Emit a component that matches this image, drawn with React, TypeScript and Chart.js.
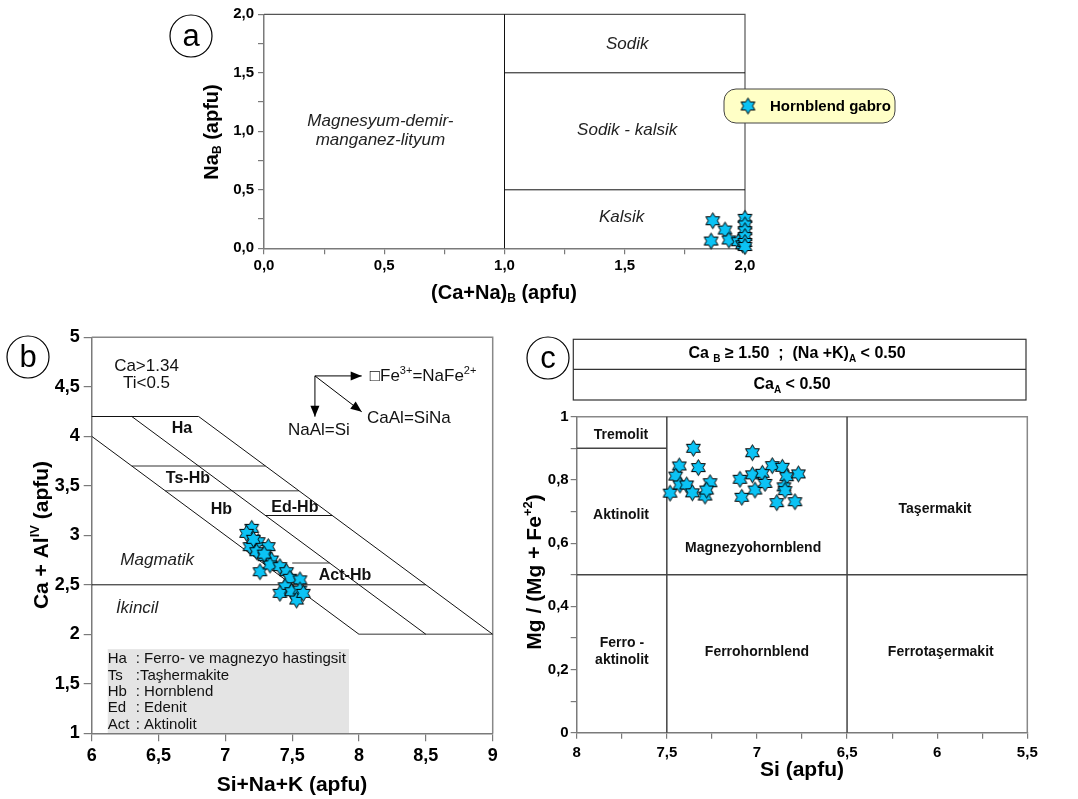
import React, { useEffect, useRef } from "react";
import { Chart, registerables } from "chart.js";
Chart.register(...registerables);

const PAGE_W = 1078;
const PAGE_H = 799;
const FONT = "'Liberation Sans', Arial, Helvetica, sans-serif";
const STAR_FILL = "#0BC3F5";
const AXIS_COLOR = "#7a7a7a";

// ---------------- Panel a : (Ca+Na)B vs NaB ----------------
const aCaNaB = [1.866, 1.917, 1.859, 1.933, 1.972, 1.99, 2.0, 2.0, 2.0, 2.0, 2.0, 2.0];
const aNaB = [0.236, 0.156, 0.062, 0.071, 0.056, 0.03, 0.256, 0.2, 0.15, 0.1, 0.05, 0.015];
const aXTicks = [0, 0.25, 0.5, 0.75, 1, 1.25, 1.5, 1.75, 2];
const aXTickLabels = ["0,0", "", "0,5", "", "1,0", "", "1,5", "", "2,0"];
const aYTicks = [0, 0.25, 0.5, 0.75, 1, 1.25, 1.5, 1.75, 2];
const aYTickLabels = ["0,0", "", "0,5", "", "1,0", "", "1,5", "", "2,0"];
const aBoundaries = [
  [1, 0, 1, 2],
  [1, 1.5, 2, 1.5],
  [1, 0.5, 2, 0.5],
];
const aFields = [
  { t: "Sodik", x: 1.51, y: 1.74 },
  { t: "Sodik - kalsik", x: 1.51, y: 1.01 },
  { t: "Kalsik", x: 1.487, y: 0.265 },
  { t: "Magnesyum-demir-", x: 0.484, y: 1.082 },
  { t: "manganez-lityum", x: 0.484, y: 0.926 },
];
const seriesName = "Hornblend gabro";

// ---------------- Panel b : Si+Na+K vs Ca+AlIV ----------------
const bSiNaK = [7.197, 7.159, 7.246, 7.184, 7.234, 7.321, 7.296, 7.346, 7.259, 7.334, 7.408, 7.458, 7.483, 7.558, 7.446, 7.408, 7.496, 7.558, 7.533, 7.583, 7.21, 7.29];
const bCaAl = [3.07, 3.02, 2.935, 2.885, 2.834, 2.885, 2.784, 2.75, 2.632, 2.7, 2.683, 2.632, 2.566, 2.55, 2.48, 2.414, 2.43, 2.447, 2.346, 2.414, 2.96, 2.81];
const bXTicks = [6, 6.5, 7, 7.5, 8, 8.5, 9];
const bXTickLabels = ["6", "6,5", "7", "7,5", "8", "8,5", "9"];
const bYTicks = [1, 1.5, 2, 2.5, 3, 3.5, 4, 4.5, 5];
const bYTickLabels = ["1", "1,5", "2", "2,5", "3", "3,5", "4", "4,5", "5"];
const bLines = [
  [6, 4.2, 6.8, 4.2],
  [6, 4, 8, 2],
  [6.3, 4.2, 8.5, 2],
  [6.8, 4.2, 9, 2],
  [7.3, 3.2, 7.8, 3.2],
  [6, 2.5, 8.5, 2.5],
];
const bGrayLines = [
  [6.3, 3.7, 7.3, 3.7],
  [6.55, 3.45, 7.55, 3.45],
  [7.5, 2.72, 7.78, 2.72],
  [8, 2, 9, 2],
];
const bBoldFields = [
  { t: "Ha", x: 6.675, y: 4.075 },
  { t: "Ts-Hb", x: 6.72, y: 3.57 },
  { t: "Hb", x: 6.97, y: 3.255 },
  { t: "Ed-Hb", x: 7.52, y: 3.275 },
  { t: "Act-Hb", x: 7.895, y: 2.59 },
];
const bItalicFields = [
  { t: "Magmatik", x: 6.49, y: 2.75 },
  { t: "İkincil", x: 6.34, y: 2.265 },
];
const bPlainFields = [
  { t: "Ca>1.34", x: 6.41, y: 4.703 },
  { t: "Ti<0.5", x: 6.41, y: 4.538 },
  { t: "NaAl=Si", x: 7.70, y: 4.064 },
];
const bArrowOrigin = [7.67, 4.61];
const bArrowEnds = [
  [8.02, 4.61],
  [7.67, 4.198],
  [8.02, 4.248],
];
const bLegendAbbr = ["Ha", "Ts", "Hb", "Ed", "Act"];
const bLegendText = [": Ferro- ve magnezyo hastingsit", ":Taşhermakite", ": Hornblend", ": Edenit", ": Aktinolit"];
const bLegendBox = [6.12, 1.0, 7.925, 1.85];

// ---------------- Panel c : Si vs Mg/(Mg+Fe2+) ----------------
const cSi = [7.353, 7.431, 7.325, 7.451, 7.482, 7.427, 7.39, 7.358, 7.288, 7.26, 7.279, 7.025, 7.094, 7.084, 7.025, 7.011, 6.97, 6.955, 6.915, 6.859, 6.835, 6.85, 6.844, 6.89, 6.77, 6.789];
const cMg = [0.9, 0.844, 0.839, 0.812, 0.758, 0.784, 0.784, 0.759, 0.749, 0.791, 0.768, 0.886, 0.802, 0.745, 0.816, 0.768, 0.821, 0.789, 0.845, 0.84, 0.81, 0.778, 0.766, 0.728, 0.819, 0.731];
const cXTicks = [5.5, 5.75, 6, 6.25, 6.5, 6.75, 7, 7.25, 7.5, 7.75, 8];
const cXTickLabels = ["5,5", "", "6", "", "6,5", "", "7", "", "7,5", "", "8"];
const cYTicks = [0, 0.1, 0.2, 0.3, 0.4, 0.5, 0.6, 0.7, 0.8, 0.9, 1];
const cYTickLabels = ["0", "", "0,2", "", "0,4", "", "0,6", "", "0,8", "", "1"];
const cLines = [
  [7.5, 0, 7.5, 1],
  [6.5, 0, 6.5, 1],
  [8, 0.5, 5.5, 0.5],
  [8, 0.9, 7.5, 0.9],
];
const cFields = [
  { t: "Tremolit", x: 7.754, y: 0.942 },
  { t: "Aktinolit", x: 7.754, y: 0.689 },
  { t: "Magnezyohornblend", x: 7.021, y: 0.584 },
  { t: "Taşermakit", x: 6.012, y: 0.708 },
  { t: "Ferro -", x: 7.749, y: 0.284 },
  { t: "aktinolit", x: 7.749, y: 0.23 },
  { t: "Ferrohornblend", x: 7.0, y: 0.255 },
  { t: "Ferrotaşermakit", x: 5.98, y: 0.255 },
];

type Part = { t: string; s?: "sub" | "sup" };

function makeStar(R: number, fill: string) {
  const size = Math.ceil(R * 2 + 3);
  const c = document.createElement("canvas");
  c.width = size;
  c.height = size;
  const g = c.getContext("2d")!;
  const cx = size / 2, cy = size / 2, r = R / Math.sqrt(3);
  g.beginPath();
  for (let k = 0; k < 12; k++) {
    const ang = -Math.PI / 2 + (k * Math.PI) / 6;
    const rad = k % 2 === 0 ? R : r;
    const x = cx + rad * Math.cos(ang), y = cy + rad * Math.sin(ang);
    if (k === 0) g.moveTo(x, y); else g.lineTo(x, y);
  }
  g.closePath();
  g.fillStyle = fill;
  g.fill();
  g.lineWidth = 1;
  g.strokeStyle = "#000";
  g.stroke();
  return c;
}

function txt(ctx: CanvasRenderingContext2D, s: string, x: number, y: number, size: number, style = "", align: CanvasTextAlign = "center", color = "#111") {
  ctx.save();
  ctx.font = `${style} ${size}px ${FONT}`;
  ctx.fillStyle = color;
  ctx.textAlign = align;
  ctx.textBaseline = "middle";
  ctx.fillText(s, x, y);
  ctx.restore();
}

function rich(ctx: CanvasRenderingContext2D, parts: Part[], x: number, y: number, size: number, weight: string, align: "left" | "center", rotate = false, color = "#000") {
  ctx.save();
  ctx.translate(x, y);
  if (rotate) ctx.rotate(-Math.PI / 2);
  ctx.fillStyle = color;
  ctx.textBaseline = "middle";
  ctx.textAlign = "left";
  const fontOf = (p: Part) => `${weight} ${p.s ? Math.round(size * 0.62) : size}px ${FONT}`;
  let total = 0;
  for (const p of parts) {
    ctx.font = fontOf(p);
    total += ctx.measureText(p.t).width;
  }
  let cx = align === "center" ? -total / 2 : 0;
  for (const p of parts) {
    ctx.font = fontOf(p);
    const dy = p.s === "sub" ? size * 0.3 : p.s === "sup" ? -size * 0.32 : 0;
    ctx.fillText(p.t, cx, dy);
    cx += ctx.measureText(p.t).width;
  }
  ctx.restore();
}

const PX = (c: any, v: number) => c.scales.x.getPixelForValue(v);
const PY = (c: any, v: number) => c.scales.y.getPixelForValue(v);

function segs(c: any, list: number[][], color: string, width: number) {
  const ctx = c.ctx as CanvasRenderingContext2D;
  ctx.save();
  ctx.strokeStyle = color;
  ctx.lineWidth = width;
  ctx.beginPath();
  for (const [x1, y1, x2, y2] of list) {
    ctx.moveTo(PX(c, x1), PY(c, y1));
    ctx.lineTo(PX(c, x2), PY(c, y2));
  }
  ctx.stroke();
  ctx.restore();
}

function frame(c: any, color: string, width: number) {
  const ctx = c.ctx as CanvasRenderingContext2D;
  const { left, right, top, bottom } = c.chartArea;
  ctx.save();
  ctx.strokeStyle = color;
  ctx.lineWidth = width;
  ctx.beginPath();
  ctx.moveTo(left, top);
  ctx.lineTo(right, top);
  ctx.lineTo(right, bottom);
  ctx.stroke();
  ctx.restore();
}

function circleLabel(ctx: CanvasRenderingContext2D, letter: string, cx: number, cy: number) {
  ctx.save();
  ctx.beginPath();
  ctx.arc(cx, cy, 21, 0, Math.PI * 2);
  ctx.fillStyle = "#fff";
  ctx.fill();
  ctx.strokeStyle = "#000";
  ctx.lineWidth = 1.2;
  ctx.stroke();
  ctx.restore();
  txt(ctx, letter, cx, cy + 1, 31, "", "center", "#000");
}

function arrow(ctx: CanvasRenderingContext2D, x1: number, y1: number, x2: number, y2: number) {
  ctx.beginPath();
  ctx.moveTo(x1, y1);
  ctx.lineTo(x2, y2);
  ctx.stroke();
  const ang = Math.atan2(y2 - y1, x2 - x1), L = 11, Wd = 4.5;
  ctx.beginPath();
  ctx.moveTo(x2, y2);
  ctx.lineTo(x2 - L * Math.cos(ang) + Wd * Math.sin(ang), y2 - L * Math.sin(ang) - Wd * Math.cos(ang));
  ctx.lineTo(x2 - L * Math.cos(ang) - Wd * Math.sin(ang), y2 - L * Math.sin(ang) + Wd * Math.cos(ang));
  ctx.closePath();
  ctx.fill();
}

function roundRect(ctx: CanvasRenderingContext2D, x: number, y: number, w: number, h: number, r: number) {
  ctx.beginPath();
  ctx.moveTo(x + r, y);
  ctx.lineTo(x + w - r, y);
  ctx.arcTo(x + w, y, x + w, y + r, r);
  ctx.lineTo(x + w, y + h - r);
  ctx.arcTo(x + w, y + h, x + w - r, y + h, r);
  ctx.lineTo(x + r, y + h);
  ctx.arcTo(x, y + h, x, y + h - r, r);
  ctx.lineTo(x, y + r);
  ctx.arcTo(x, y, x + r, y, r);
  ctx.closePath();
}

type AxisSpec = {
  min: number; max: number; reverse?: boolean;
  ticks: number[]; labels: string[];
  font: number; tickLen: number; pad: number; size: number;
};

function scaleOpts(ax: AxisSpec, isX: boolean) {
  return {
    type: "linear",
    min: ax.min,
    max: ax.max,
    reverse: !!ax.reverse,
    afterBuildTicks: (s: any) => {
      s.ticks = ax.ticks.map((v) => ({ value: v }));
    },
    afterFit: (s: any) => {
      if (isX) s.height = ax.size;
      else s.width = ax.size;
    },
    ticks: {
      autoSkip: false,
      maxRotation: 0,
      minRotation: 0,
      color: "#000",
      padding: ax.pad,
      font: { family: FONT, size: ax.font, weight: "bold" },
      callback: (_v: any, i: number) => ax.labels[i],
    },
    grid: { drawOnChartArea: false, drawTicks: true, tickLength: ax.tickLen, color: AXIS_COLOR, lineWidth: 1.2 },
    border: { display: true, color: AXIS_COLOR, width: 1.5 },
    title: { display: false },
  };
}

type Area = { left: number; top: number; right: number; bottom: number };
type Draw = { back?: (c: any) => void; under?: (c: any) => void; over?: (c: any) => void };

function build(canvas: HTMLCanvasElement, area: Area, xAx: AxisSpec, yAx: AxisSpec, xs: number[], ys: number[], star: HTMLCanvasElement, draw: Draw) {
  const points = xs.map((x, i) => ({ x, y: ys[i] }));
  return new Chart(canvas, {
    type: "scatter",
    data: {
      datasets: [
        {
          label: seriesName,
          data: points,
          pointStyle: star as any,
          pointRadius: 8,
          pointHoverRadius: 8,
          backgroundColor: STAR_FILL,
          borderColor: "#000",
          clip: false as any,
        },
      ],
    },
    options: {
      responsive: false,
      animation: false,
      devicePixelRatio: 1,
      events: [],
      layout: {
        padding: {
          left: area.left - yAx.size,
          top: area.top,
          right: PAGE_W - area.right,
          bottom: PAGE_H - area.bottom - xAx.size,
        },
      },
      plugins: { legend: { display: false }, tooltip: { enabled: false } },
      scales: { x: scaleOpts(xAx, true) as any, y: scaleOpts(yAx, false) as any },
    },
    plugins: [
      {
        id: "deco",
        beforeDraw: (c: any) => draw.back && draw.back(c),
        beforeDatasetsDraw: (c: any) => draw.under && draw.under(c),
        afterDraw: (c: any) => draw.over && draw.over(c),
      },
    ],
  });
}

function buildA(canvas: HTMLCanvasElement, star: HTMLCanvasElement) {
  const xAx: AxisSpec = { min: 0, max: 2, ticks: aXTicks, labels: aXTickLabels, font: 15, tickLen: 6, pad: 3, size: 40 };
  const yAx: AxisSpec = { min: 0, max: 2, ticks: aYTicks, labels: aYTickLabels, font: 15, tickLen: 6, pad: 4, size: 60 };
  return build(canvas, { left: 264, top: 14.3, right: 745, bottom: 248.3 }, xAx, yAx, aCaNaB, aNaB, star, {
    under: (c) => {
      const ctx = c.ctx as CanvasRenderingContext2D;
      frame(c, "#555", 1.2);
      segs(c, aBoundaries, "#111", 1);
      for (const f of aFields) txt(ctx, f.t, PX(c, f.x), PY(c, f.y), 17, "italic", "center", "#222");
      rich(ctx, [{ t: "(Ca+Na)" }, { t: "B", s: "sub" }, { t: " (apfu)" }], 504, 293, 20, "bold", "center");
      rich(ctx, [{ t: "Na" }, { t: "B", s: "sub" }, { t: " (apfu)" }], 212, 132, 20, "bold", "center", true);
      circleLabel(ctx, "a", 191, 36);
    },
    over: (c) => {
      const ctx = c.ctx as CanvasRenderingContext2D;
      ctx.save();
      roundRect(ctx, 724, 89, 171, 34, 12);
      ctx.fillStyle = "#FFFFC6";
      ctx.fill();
      ctx.strokeStyle = "#444";
      ctx.lineWidth = 1;
      ctx.stroke();
      ctx.drawImage(star, 748 - star.width / 2, 106 - star.height / 2);
      ctx.restore();
      txt(ctx, seriesName, 770, 107, 15, "bold", "left", "#000");
    },
  });
}

function buildB(canvas: HTMLCanvasElement, star: HTMLCanvasElement) {
  const xAx: AxisSpec = { min: 6, max: 9, ticks: bXTicks, labels: bXTickLabels, font: 18, tickLen: 8, pad: 4, size: 40 };
  const yAx: AxisSpec = { min: 1, max: 5, ticks: bYTicks, labels: bYTickLabels, font: 18, tickLen: 8, pad: 4, size: 70 };
  return build(canvas, { left: 91.7, top: 337.3, right: 492.7, bottom: 733.3 }, xAx, yAx, bSiNaK, bCaAl, star, {
    back: (c) => {
      const ctx = c.ctx as CanvasRenderingContext2D;
      const [x1, y1, x2, y2] = bLegendBox;
      const L = PX(c, x1), B = PY(c, y1), R = PX(c, x2), T = PY(c, y2);
      ctx.save();
      ctx.fillStyle = "#e4e4e4";
      ctx.fillRect(L, T, R - L, B - T);
      ctx.restore();
      bLegendAbbr.forEach((a, i) => {
        const y = T + 10 + i * 16.4;
        txt(ctx, a, L, y, 15, "", "left", "#111");
        txt(ctx, bLegendText[i], L + 28, y, 15, "", "left", "#111");
      });
    },
    under: (c) => {
      const ctx = c.ctx as CanvasRenderingContext2D;
      frame(c, "#888", 1.5);
      segs(c, bGrayLines, "#777", 1.5);
      segs(c, bLines, "#111", 1);
      for (const f of bBoldFields) txt(ctx, f.t, PX(c, f.x), PY(c, f.y), 16, "bold", "center", "#111");
      for (const f of bItalicFields) txt(ctx, f.t, PX(c, f.x), PY(c, f.y), 17, "italic", "center", "#222");
      for (const f of bPlainFields) txt(ctx, f.t, PX(c, f.x), PY(c, f.y), 17, "", "center", "#111");
      ctx.save();
      ctx.strokeStyle = "#000";
      ctx.fillStyle = "#000";
      ctx.lineWidth = 1;
      const ox = PX(c, bArrowOrigin[0]), oy = PY(c, bArrowOrigin[1]);
      for (const [ex, ey] of bArrowEnds) arrow(ctx, ox, oy, PX(c, ex), PY(c, ey));
      ctx.restore();
      rich(ctx, [{ t: "□Fe" }, { t: "3+", s: "sup" }, { t: "=NaFe" }, { t: "2+", s: "sup" }], PX(c, 8.08), PY(c, 4.61), 17, "", "left", false, "#111");
      txt(ctx, "CaAl=SiNa", PX(c, 8.06), PY(c, 4.185), 17, "", "left", "#111");
      rich(ctx, [{ t: "Si+Na+K (apfu)" }], 292, 785, 21, "bold", "center");
      rich(ctx, [{ t: "Ca + Al" }, { t: "IV", s: "sup" }, { t: " (apfu)" }], 42, 535, 21, "bold", "center", true);
      circleLabel(ctx, "b", 28, 357);
    },
  });
}

function buildC(canvas: HTMLCanvasElement, star: HTMLCanvasElement) {
  const xAx: AxisSpec = { min: 5.5, max: 8, reverse: true, ticks: cXTicks, labels: cXTickLabels, font: 15, tickLen: 6, pad: 5, size: 40 };
  const yAx: AxisSpec = { min: 0, max: 1, ticks: cYTicks, labels: cYTickLabels, font: 15, tickLen: 6, pad: 2, size: 50 };
  return build(canvas, { left: 576.7, top: 416.7, right: 1027.3, bottom: 732.7 }, xAx, yAx, cSi, cMg, star, {
    under: (c) => {
      const ctx = c.ctx as CanvasRenderingContext2D;
      frame(c, "#888", 1.5);
      segs(c, cLines, "#444", 1.5);
      for (const f of cFields) txt(ctx, f.t, PX(c, f.x), PY(c, f.y), 14, "bold", "center", "#111");
      ctx.save();
      ctx.strokeStyle = "#333";
      ctx.lineWidth = 1.2;
      ctx.strokeRect(573.3, 339.3, 452.7, 60.7);
      ctx.beginPath();
      ctx.moveTo(573.3, 369.3);
      ctx.lineTo(1026, 369.3);
      ctx.stroke();
      ctx.restore();
      rich(ctx, [{ t: "Ca " }, { t: "B", s: "sub" }, { t: " ≥ 1.50  ;  (Na +K)" }, { t: "A", s: "sub" }, { t: " < 0.50" }], 797, 354, 16, "bold", "center");
      rich(ctx, [{ t: "Ca" }, { t: "A", s: "sub" }, { t: " < 0.50" }], 792, 385, 16, "bold", "center");
      rich(ctx, [{ t: "Si (apfu)" }], 802, 770, 21, "bold", "center");
      rich(ctx, [{ t: "Mg / (Mg + Fe" }, { t: "+2", s: "sup" }, { t: ")" }], 535, 572, 21, "bold", "center", true);
      circleLabel(ctx, "c", 548, 358);
    },
  });
}

export default function App() {
  const aRef = useRef<HTMLCanvasElement>(null);
  const bRef = useRef<HTMLCanvasElement>(null);
  const cRef = useRef<HTMLCanvasElement>(null);

  useEffect(() => {
    const star = makeStar(8, STAR_FILL);
    const charts = [buildA(aRef.current!, star), buildB(bRef.current!, star), buildC(cRef.current!, star)];
    return () => charts.forEach((ch) => ch.destroy());
  }, []);

  const cs: React.CSSProperties = { position: "absolute", left: 0, top: 0, width: PAGE_W, height: PAGE_H };
  return (
    <div style={{ position: "absolute", left: 0, top: 0, width: PAGE_W, height: PAGE_H, background: "#fff", overflow: "hidden" }}>
      <canvas ref={aRef} width={PAGE_W} height={PAGE_H} style={cs} />
      <canvas ref={bRef} width={PAGE_W} height={PAGE_H} style={cs} />
      <canvas ref={cRef} width={PAGE_W} height={PAGE_H} style={cs} />
    </div>
  );
}
